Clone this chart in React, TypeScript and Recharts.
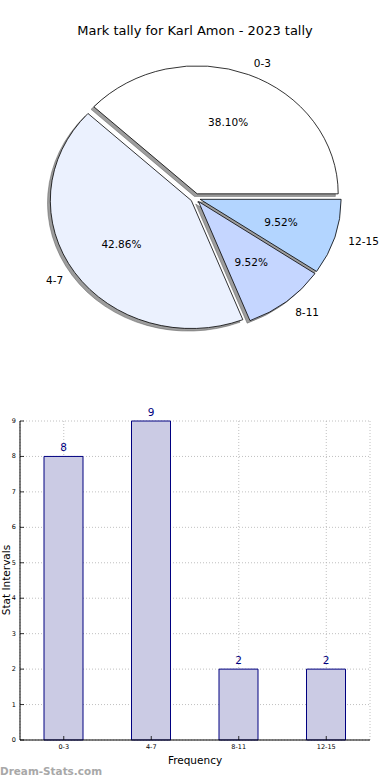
import React from 'react';
import { PieChart, Pie, Cell, BarChart, Bar, XAxis, YAxis, CartesianGrid, LabelList } from 'recharts';

const categories = ['0-3', '4-7', '8-11', '12-15'];
const counts = [8, 9, 2, 2];
const sliceColors = ['#ffffff', '#ebf1fe', '#c5d6ff', '#b3d5ff'];
const yTicks = [0, 1, 2, 3, 4, 5, 6, 7, 8, 9];

const title = 'Mark tally for Karl Amon - 2023 tally';
const xTitle = 'Frequency';
const yTitle = 'Stat Intervals';
const watermark = 'Dream-Stats.com';

const data = categories.map((name, i) => ({ name, value: counts[i] }));

const FONT = '"DejaVu Sans", Verdana, sans-serif';
const RY = 128 / 141;
const EXPLODE = 0.035;
const RAD = Math.PI / 180;

function ellPath(cx: number, cy: number, r: number, a0: number, a1: number) {
  const rx = r;
  const ry = r * RY;
  const x0 = cx + rx * Math.cos(a0 * RAD);
  const y0 = cy - ry * Math.sin(a0 * RAD);
  const x1 = cx + rx * Math.cos(a1 * RAD);
  const y1 = cy - ry * Math.sin(a1 * RAD);
  const large = Math.abs(a1 - a0) > 180 ? 1 : 0;
  const sweep = a1 > a0 ? 0 : 1;
  return `M${cx},${cy} L${x0},${y0} A${rx},${ry} 0 ${large} ${sweep} ${x1},${y1} Z`;
}

function explodedCenter(p: any) {
  const mid = (p.startAngle + p.endAngle) / 2;
  const r = p.outerRadius;
  return {
    ex: p.cx + EXPLODE * r * Math.cos(mid * RAD),
    ey: p.cy - EXPLODE * r * RY * Math.sin(mid * RAD),
  };
}

const wedgeShape = (p: any) => {
  const { ex, ey } = explodedCenter(p);
  return (
    <path
      d={ellPath(ex, ey, p.outerRadius, p.startAngle, p.endAngle)}
      fill={p.fill}
      stroke="#000"
      strokeWidth={0.8}
      strokeLinejoin="miter"
    />
  );
};

const shadowShape = (p: any) => {
  const { ex, ey } = explodedCenter(p);
  const r = p.outerRadius;
  return (
    <path
      d={ellPath(ex - 0.02 * r, ey + 0.02 * r * RY, r, p.startAngle, p.endAngle)}
      fill="#4d4d4d"
      fillOpacity={0.55}
      stroke="#4d4d4d"
      strokeOpacity={0.55}
      strokeWidth={0.8}
    />
  );
};

const pieLabel = (p: any) => {
  const mid = p.midAngle;
  const r = p.outerRadius;
  const c = Math.cos(mid * RAD);
  const s = Math.sin(mid * RAD);
  const ex = p.cx + EXPLODE * r * c;
  const ey = p.cy - EXPLODE * r * RY * s;
  const lx = ex + 1.1 * r * c;
  const ly = ey - 1.1 * r * RY * s;
  const px = ex + 0.6 * r * c;
  const py = ey - 0.6 * r * RY * s;
  return (
    <g>
      <text x={lx} y={ly} textAnchor={c > 0 ? 'start' : 'end'} dominantBaseline="central" fontSize={10.5} fontFamily={FONT} fill="#000">
        {p.name}
      </text>
      <text x={px} y={py} textAnchor="middle" dominantBaseline="central" fontSize={10.5} fontFamily={FONT} fill="#000">
        {(p.percent * 100).toFixed(2) + '%'}
      </text>
    </g>
  );
};

const XTick = (p: any) => (
  <g>
    <line x1={p.x} y1={p.y} x2={p.x} y2={p.y - 4} stroke="#000" strokeWidth={0.8} />
    <text x={p.x} y={p.y + 7} textAnchor="middle" dominantBaseline="central" fontSize={6.5} fontFamily={FONT} fill="#000">
      {p.payload.value}
    </text>
  </g>
);

const YTick = (p: any) => (
  <g>
    <line x1={p.x} y1={p.y} x2={p.x + 4} y2={p.y} stroke="#000" strokeWidth={0.8} />
    <text x={p.x - 4} y={p.y} textAnchor="end" dominantBaseline="central" fontSize={6.5} fontFamily={FONT} fill="#000">
      {p.payload.value}
    </text>
  </g>
);

const TopTick = (p: any) => (
  <line x1={p.x} y1={p.y} x2={p.x} y2={p.y + 4} stroke="#000" strokeWidth={0.8} />
);

const RightTick = (p: any) => (
  <line x1={p.x} y1={p.y} x2={p.x - 4} y2={p.y} stroke="#000" strokeWidth={0.8} />
);

export default function App() {
  return (
    <div style={{ position: 'absolute', left: 0, top: 0, width: 390, height: 780, background: '#fff' }}>
      <div style={{ position: 'absolute', left: 0, top: 0 }}>
        <PieChart width={390} height={380} margin={{ top: 0, right: 0, bottom: 0, left: 0 }}>
          <Pie
            data={data}
            dataKey="value"
            nameKey="name"
            cx={195.4}
            cy={198}
            outerRadius={141}
            startAngle={0}
            endAngle={360}
            isAnimationActive={false}
            shape={shadowShape}
            activeShape={shadowShape}
            inactiveShape={shadowShape}
            stroke="none"
          >
            {data.map((d, i) => (
              <Cell key={'s' + i} fill={sliceColors[i]} />
            ))}
          </Pie>
          <Pie
            data={data}
            dataKey="value"
            nameKey="name"
            cx={195.4}
            cy={198}
            outerRadius={141}
            startAngle={0}
            endAngle={360}
            isAnimationActive={false}
            shape={wedgeShape}
            activeShape={wedgeShape}
            inactiveShape={wedgeShape}
            label={pieLabel}
            labelLine={false}
          >
            {data.map((d, i) => (
              <Cell key={'w' + i} fill={sliceColors[i]} />
            ))}
          </Pie>
        </PieChart>
      </div>
      <div style={{ position: 'absolute', left: 0, top: 380 }}>
        <BarChart width={390} height={400} data={data} margin={{ top: 41, right: 20, bottom: 0, left: 0 }}>
          <CartesianGrid stroke="#b0b0b0" strokeDasharray="1 2" strokeWidth={0.8} />
          <XAxis
            dataKey="name"
            height={40}
            interval={0}
            tickSize={0}
            tickMargin={0}
            tickLine={false}
            axisLine={{ stroke: '#000', strokeWidth: 1 }}
            tick={<XTick />}
          />
          <XAxis
            xAxisId="top"
            orientation="top"
            dataKey="name"
            height={0}
            interval={0}
            tickSize={0}
            tickMargin={0}
            tickLine={false}
            axisLine={{ stroke: '#000', strokeWidth: 1 }}
            tick={<TopTick />}
          />
          <YAxis
            width={20}
            domain={[0, 9]}
            ticks={yTicks}
            interval={0}
            tickSize={0}
            tickMargin={0}
            tickLine={false}
            axisLine={{ stroke: '#000', strokeWidth: 1 }}
            tick={<YTick />}
          />
          <YAxis
            yAxisId="right"
            orientation="right"
            width={0}
            domain={[0, 9]}
            ticks={yTicks}
            interval={0}
            tickSize={0}
            tickMargin={0}
            tickLine={false}
            axisLine={{ stroke: '#000', strokeWidth: 1 }}
            tick={<RightTick />}
          />
          <Bar dataKey="value" barSize={39} fill="#cbcbe4" stroke="#000080" strokeWidth={1} isAnimationActive={false}>
            <LabelList dataKey="value" position="top" offset={5} fill="#000080" fontSize={10.5} fontFamily={FONT} />
          </Bar>
        </BarChart>
      </div>
      <svg width={390} height={780} style={{ position: 'absolute', left: 0, top: 0, pointerEvents: 'none' }}>
        <text x={195} y={30} textAnchor="middle" dominantBaseline="central" fontSize={13} fontFamily={FONT} fill="#000">
          {title}
        </text>
        <text x={195} y={760} textAnchor="middle" dominantBaseline="central" fontSize={10.5} fontFamily={FONT} fill="#000">
          {xTitle}
        </text>
        <text
          x={6}
          y={580}
          textAnchor="middle"
          dominantBaseline="central"
          fontSize={10.5}
          fontFamily={FONT}
          fill="#000"
          transform="rotate(-90 6 580)"
        >
          {yTitle}
        </text>
        <text
          x={0}
          y={771}
          dominantBaseline="central"
          fontSize={11}
          fontWeight="bold"
          fontFamily={FONT}
          fill="#a8a8a8"
          textLength={102}
          lengthAdjust="spacingAndGlyphs"
        >
          {watermark}
        </text>
      </svg>
    </div>
  );
}
